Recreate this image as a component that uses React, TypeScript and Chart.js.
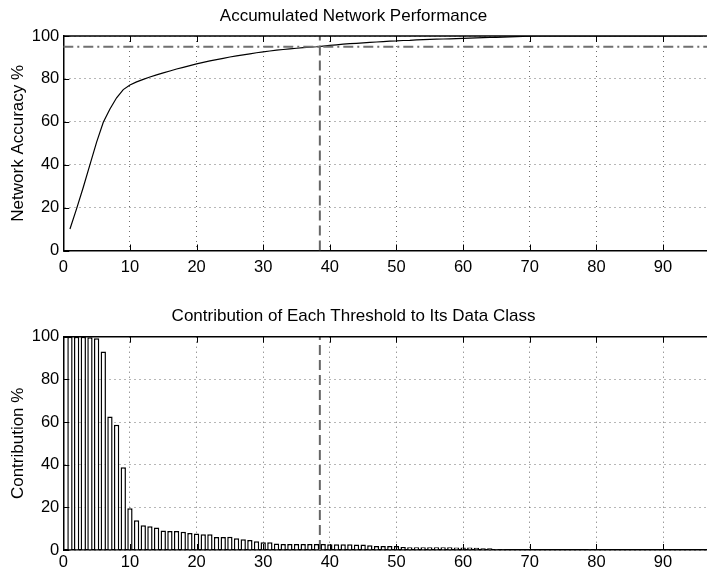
import React, { useEffect, useRef } from 'react';
import { Chart, registerables } from 'chart.js';

Chart.register(...registerables);

// ---- data ----
const thresholds = Array.from({ length: 96 }, (_, i) => i + 1);

const accuracy = [
  10, 19.5, 29.5, 40, 50.5, 59.8, 66, 71.2, 75, 77.2,
  78.6, 79.8, 80.9, 81.9, 82.8, 83.7, 84.6, 85.4, 86.2, 87.0,
  87.7, 88.4, 89.0, 89.6, 90.2, 90.7, 91.2, 91.7, 92.2, 92.6,
  93.0, 93.4, 93.7, 94.0, 94.3, 94.6, 94.8, 95.0, 95.3, 95.6,
  95.9, 96.2, 96.4, 96.6, 96.8, 97.0, 97.2, 97.4, 97.6, 97.7,
  97.9, 98.0, 98.2, 98.3, 98.4, 98.5, 98.6, 98.7, 98.8, 98.9,
  99.0, 99.1, 99.2, 99.3, 99.4, 99.5, 99.6, 99.7, 99.8, 99.9,
  100, 100, 100, 100, 100, 100, 100, 100, 100, 100,
  100, 100, 100, 100, 100, 100, 100, 100, 100, 100,
  100, 100, 100, 100, 100, 100,
];

const contribution = [
  100, 100, 100, 99.8, 99.3, 93.1, 62.6, 58.7, 38.8, 19.6,
  13.9, 11.6, 11.1, 10.6, 9.2, 8.9, 8.9, 8.6, 8.0, 7.7,
  7.4, 7.4, 6.1, 6.1, 6.2, 5.5, 5.0, 4.7, 4.1, 3.6,
  3.6, 3.1, 2.8, 2.8, 2.8, 2.8, 2.8, 2.8, 2.8, 2.7,
  2.7, 2.7, 2.7, 2.6, 2.6, 2.2, 1.9, 1.9, 1.9, 1.9,
  1.4, 1.3, 1.3, 1.3, 1.3, 1.3, 1.3, 1.3, 1.2, 1.2,
  1.2, 1.0, 0.8, 0.8, 0.5, 0.4, 0.3, 0.3, 0.3, 0.3,
  0.3, 0.3, 0.3, 0.2, 0.2, 0.2, 0.2, 0.2, 0.1, 0.1,
  0, 0, 0, 0, 0, 0, 0, 0, 0, 0,
  0, 0, 0, 0, 0, 0,
];

const xTickValues = [0, 10, 20, 30, 40, 50, 60, 70, 80, 90];
const yTickValues = [0, 20, 40, 60, 80, 100];

const ACCURACY_TARGET = 95;
const CUTOFF = 38.5;
const X_MIN = 0;
const X_MAX = 96.6;
const Y_MIN = 0;
const Y_MAX = 100;

const TOP_TITLE = 'Accumulated Network Performance';
const TOP_YLABEL = 'Network Accuracy %';
const BOTTOM_TITLE = 'Contribution of Each Threshold to Its Data Class';
const BOTTOM_YLABEL = 'Contribution %';

// ---- styling ----
const FONT = "'Liberation Sans', Arial, Helvetica, sans-serif";
const W = 707;
const TOP_H = 290;
const BOTTOM_H = 281;
const GRID = '#6e6e6e';

const framePlugin = {
  id: 'frame',
  afterDatasetsDraw(chart: any) {
    const { ctx, chartArea: a, scales } = chart;
    const x = scales.x;
    const y = scales.y;
    const tl = 6;
    ctx.save();
    ctx.setLineDash([]);
    ctx.strokeStyle = '#000';
    ctx.lineWidth = 1.5;
    ctx.beginPath();
    ctx.moveTo(a.left, a.top);
    ctx.lineTo(a.right, a.top);
    ctx.stroke();
    ctx.lineWidth = 1;
    ctx.beginPath();
    xTickValues.forEach((v) => {
      const px = Math.round(x.getPixelForValue(v)) + 0.5;
      ctx.moveTo(px, a.bottom);
      ctx.lineTo(px, a.bottom - tl);
      ctx.moveTo(px, a.top);
      ctx.lineTo(px, a.top + tl);
    });
    yTickValues.forEach((v) => {
      const py = Math.round(y.getPixelForValue(v)) + 0.5;
      ctx.moveTo(a.left, py);
      ctx.lineTo(a.left + tl, py);
    });
    ctx.stroke();
    ctx.restore();
  },
};

const gridColor = (vals: number[]) => (c: any) =>
  c.tick && vals.includes(c.tick.value) ? GRID : 'rgba(0,0,0,0)';

function makeScales(yTitle: string, xPad: number, xHeight: number) {
  return {
    x: {
      type: 'linear' as const,
      min: X_MIN,
      max: X_MAX,
      offset: false,
      afterBuildTicks: (s: any) => { s.ticks = xTickValues.map((v) => ({ value: v })); },
      afterFit: (s: any) => { s.height = xHeight; },
      ticks: {
        padding: xPad,
        color: '#000',
        font: { family: FONT, size: 16.5 },
        maxRotation: 0,
        autoSkip: false,
      },
      grid: {
        color: gridColor(xTickValues),
        lineWidth: 1,
        drawTicks: false,
        offset: false,
      },
      border: { display: true, color: '#000', width: 1.5, dash: [1, 4] },
    },
    y: {
      type: 'linear' as const,
      min: Y_MIN,
      max: Y_MAX,
      afterBuildTicks: (s: any) => { s.ticks = yTickValues.map((v) => ({ value: v })); },
      afterFit: (s: any) => { s.width = 63.3; },
      ticks: {
        padding: 4,
        color: '#000',
        font: { family: FONT, size: 16.5 },
      },
      grid: {
        color: gridColor(yTickValues),
        lineWidth: 1,
        drawTicks: false,
      },
      border: { display: true, color: '#000', width: 1.5, dash: [1, 4] },
      title: {
        display: true,
        text: yTitle,
        color: '#000',
        font: { family: FONT, size: 17 },
        padding: { top: 8, bottom: 0 },
      },
    },
  };
}

export default function App() {
  const topRef = useRef<HTMLCanvasElement>(null);
  const botRef = useRef<HTMLCanvasElement>(null);

  useEffect(() => {
    const top = new Chart(topRef.current!, {
      type: 'line',
      data: {
        datasets: [
          {
            label: 'target',
            data: [
              { x: X_MIN, y: ACCURACY_TARGET },
              { x: X_MAX, y: ACCURACY_TARGET },
            ],
            borderColor: '#707070',
            borderWidth: 2,
            borderDash: [10, 4, 2, 4],
            pointRadius: 0,
            fill: false,
          },
          {
            label: 'cutoff',
            data: [
              { x: CUTOFF, y: Y_MIN },
              { x: CUTOFF, y: Y_MAX },
            ],
            borderColor: '#666',
            borderWidth: 2,
            borderDash: [10, 5],
            pointRadius: 0,
            fill: false,
          },
          {
            label: 'accuracy',
            data: thresholds.map((t, i) => ({ x: t, y: accuracy[i] })),
            borderColor: '#000',
            borderWidth: 1.2,
            pointRadius: 0,
            tension: 0,
            fill: false,
          },
        ],
      },
      options: {
        responsive: false,
        animation: false,
        devicePixelRatio: 1,
        layout: { padding: 0 },
        plugins: {
          legend: { display: false },
          tooltip: { enabled: false },
          title: {
            display: true,
            text: TOP_TITLE,
            color: '#000',
            font: { family: FONT, size: 17, weight: 'normal' },
            padding: { top: 5.8, bottom: 9.8 },
          },
        },
        scales: makeScales(TOP_YLABEL, 6.6, TOP_H - 250.5),
      } as any,
      plugins: [framePlugin],
    });

    const bottom = new Chart(botRef.current!, {
      type: 'bar',
      data: {
        datasets: [
          {
            type: 'bar',
            label: 'contribution',
            data: thresholds.map((t, i) => ({ x: t, y: contribution[i] })),
            backgroundColor: '#fff',
            borderColor: '#000',
            borderWidth: 1.5,
            barPercentage: 0.8,
            categoryPercentage: 1,
          } as any,
          {
            type: 'line',
            label: 'cutoff',
            data: [
              { x: CUTOFF, y: Y_MIN },
              { x: CUTOFF, y: Y_MAX },
            ],
            borderColor: '#666',
            borderWidth: 2,
            borderDash: [10, 5],
            pointRadius: 0,
            fill: false,
          } as any,
        ],
      },
      options: {
        responsive: false,
        animation: false,
        devicePixelRatio: 1,
        layout: { padding: 0 },
        plugins: {
          legend: { display: false },
          tooltip: { enabled: false },
          title: {
            display: true,
            text: BOTTOM_TITLE,
            color: '#000',
            font: { family: FONT, size: 17, weight: 'normal' },
            padding: { top: 15.8, bottom: 10.5 },
          },
        },
        scales: makeScales(BOTTOM_YLABEL, 2.8, BOTTOM_H - 260),
      } as any,
      plugins: [framePlugin],
    });

    return () => {
      top.destroy();
      bottom.destroy();
    };
  }, []);

  return (
    <div style={{ position: 'absolute', left: 0, top: 0, width: W, background: '#fff' }}>
      <canvas ref={topRef} width={W} height={TOP_H} style={{ display: 'block' }} />
      <canvas ref={botRef} width={W} height={BOTTOM_H} style={{ display: 'block' }} />
    </div>
  );
}
